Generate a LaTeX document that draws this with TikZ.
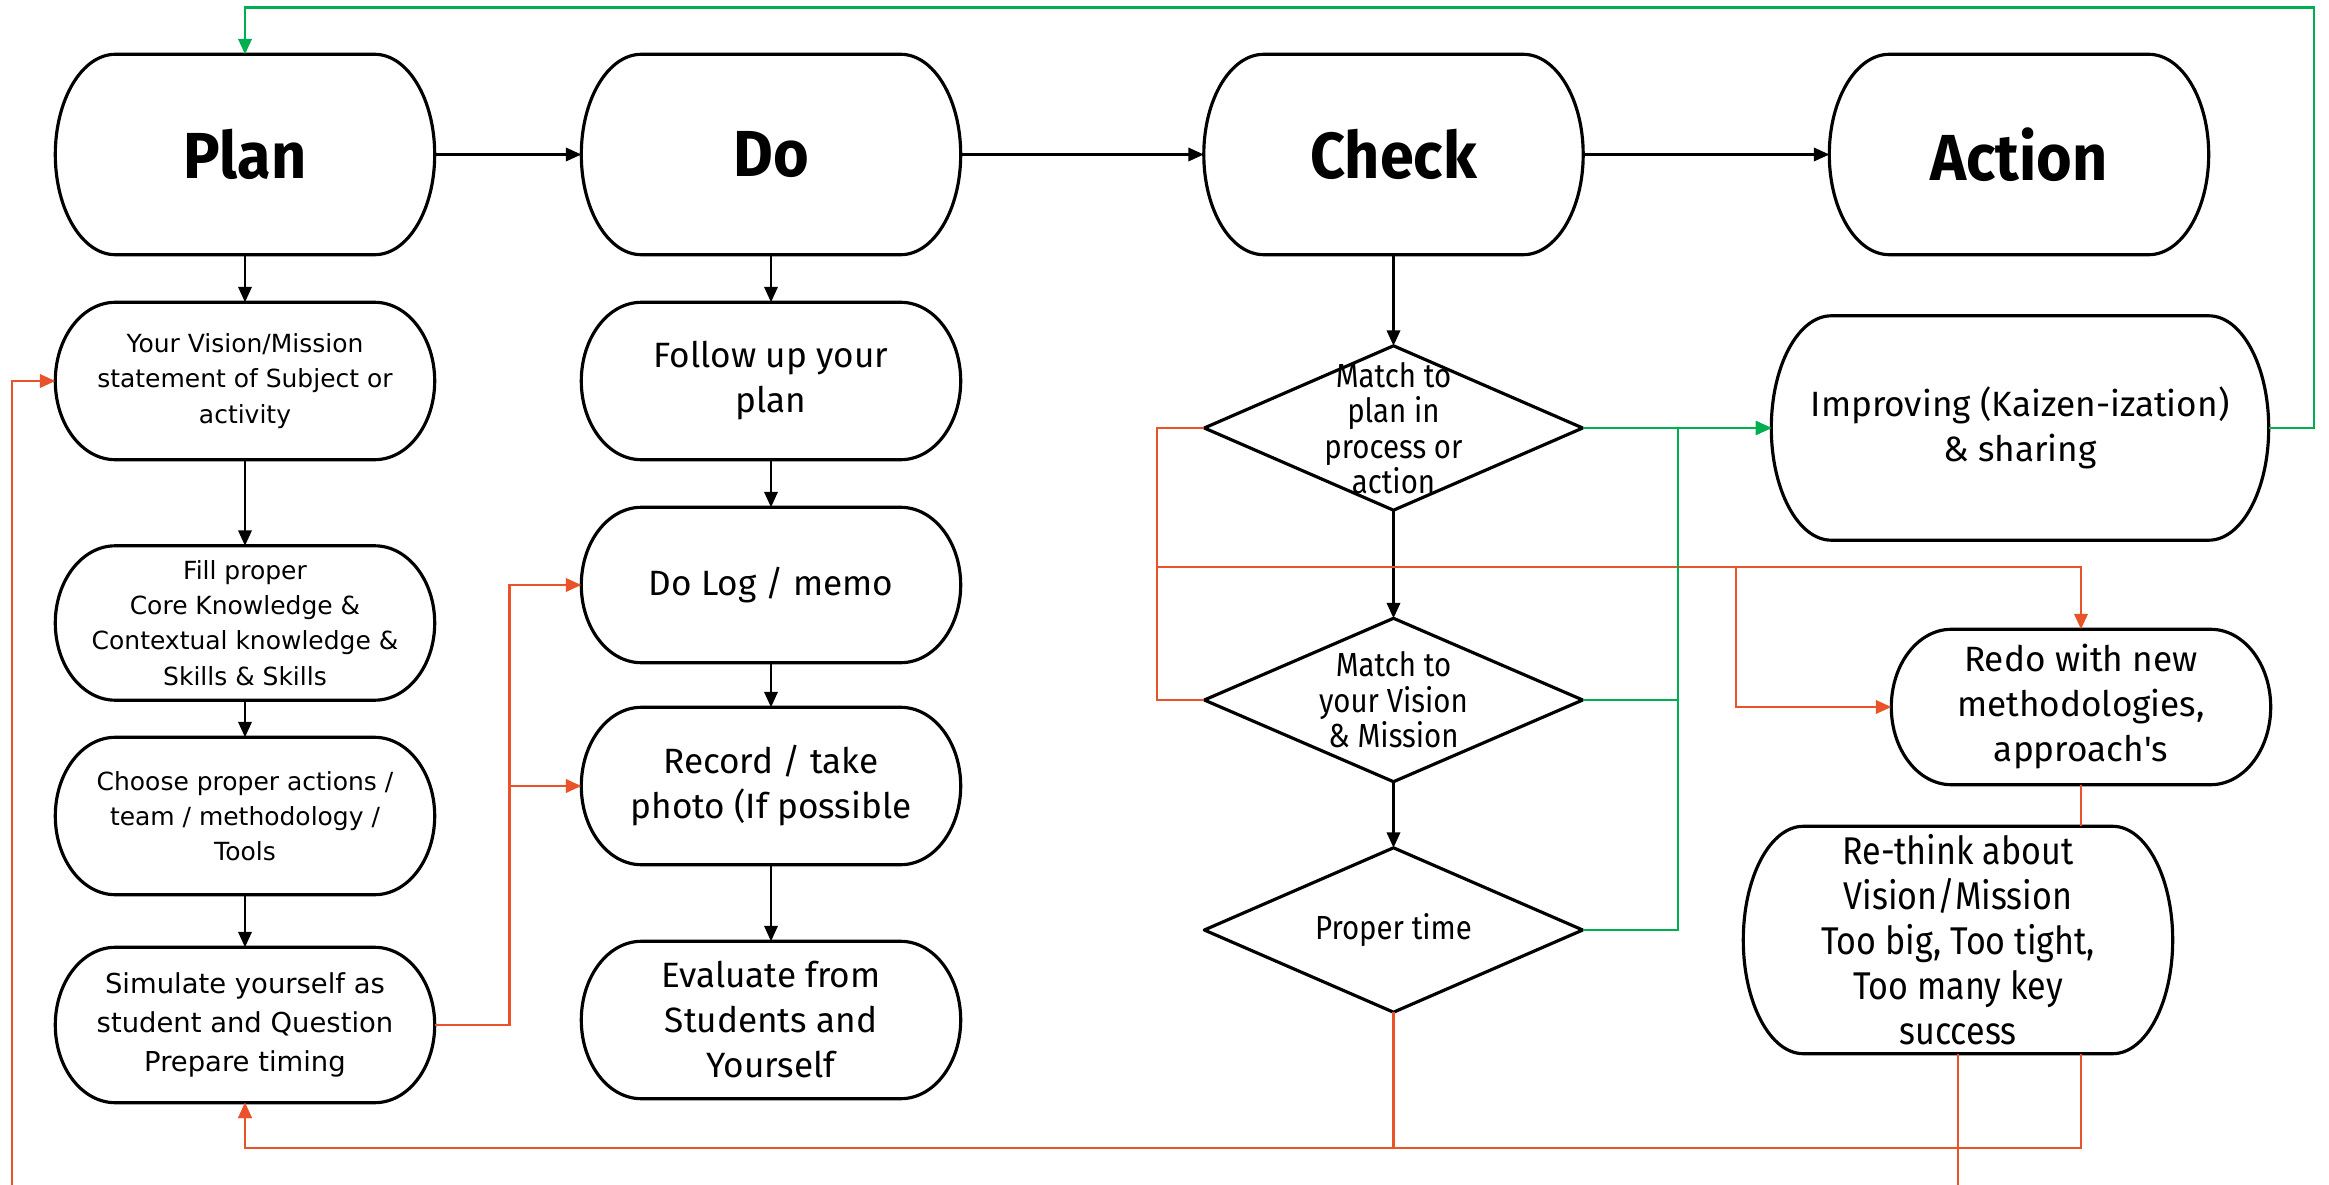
\documentclass[tikz,border=0pt]{standalone}
\usepackage{fontspec}
\setmainfont{Fira Sans}
\newfontfamily\widefont{DejaVu Sans}
\newfontfamily\narrowfont[FakeStretch=0.88]{Fira Sans}
\newfontfamily\titlefont[FakeStretch=0.94]{Fira Sans}
\usetikzlibrary{arrows.meta,calc}

\definecolor{loopred}{HTML}{EA5329}
\definecolor{loopgreen}{HTML}{00B050}

\tikzset{
  term/.style={rectangle, inner sep=0pt, align=center},
  boxline/.style={line width=0.9pt, line join=round},
  tip/.style={-{Triangle[length=4.4pt,width=3.8pt]}},
  flow/.style={line width=0.7pt, tip},
  redlink/.style={line width=0.75pt, draw=loopred},
  redflow/.style={redlink, tip, color=loopred},
  greenlink/.style={line width=0.75pt, draw=loopgreen},
  greenflow/.style={greenlink, tip, color=loopgreen},
  title/.style={font=\titlefont\fontsize{18.5}{22}\selectfont\bfseries},
  body/.style={font=\fontsize{10}{12.8}\selectfont},
  wide/.style={font=\widefont\fontsize{7.1}{10}\selectfont},
  widebig/.style={font=\widefont\fontsize{7.8}{11}\selectfont},
  narrow/.style={font=\narrowfont\fontsize{9.5}{10.1}\selectfont},
  narrowbig/.style={font=\narrowfont\fontsize{11}{12.8}\selectfont},
}

% terminal box: rectangle node with elliptical ends drawn round it
% #1 text style, #2 name, #3 centre, #4 width, #5 height, #6 text
\newcommand\termnode[6][body]{%
  \node[term, #1, minimum width=#4*0.01cm, minimum height=#5*0.01cm] (#2) at (#3) {#6};
  \draw[boxline] let \p1=(#2.north west), \p2=(#2.south east),
      \n1={(\y1-\y2)/2}, \n2={60*0.01cm} in
    (\x1+\n2,\y1) -- (\x2-\n2,\y1)
    arc[start angle=90, end angle=-90, x radius=\n2, y radius=\n1]
    -- (\x1+\n2,\y2)
    arc[start angle=270, end angle=90, x radius=\n2, y radius=\n1] -- cycle;}

% decision diamond: #1 name, #2 centre, #3 width, #4 height, #5 text
\newcommand\decision[5]{%
  \node[term, narrow, minimum width=#3*0.01cm, minimum height=#4*0.01cm] (#1) at (#2) {#5};
  \draw[boxline] (#1.north) -- (#1.east) -- (#1.south) -- (#1.west) -- cycle;}

\begin{document}
\begin{tikzpicture}[x=0.01cm, y=-0.01cm]
\useasboundingbox (0,0) rectangle (2329,1185);
\fill[white] (0,0) rectangle (2329,1185);
\clip (0,0) rectangle (2329,1185);

% PDCA headings
\termnode[title]{plan}{245,154.5}{378}{199}{Plan}
\termnode[title]{do}{771,154.5}{378}{199}{Do}
\termnode[title]{check}{1393.5,154.5}{378}{199}{Check}
\termnode[title]{act}{2019,154.5}{378}{199}{Action}

% Plan column
\termnode[wide]{vision}{245,381}{378}{156}{Your Vision/Mission\\statement of Subject or\\activity}
\termnode[wide]{fill}{245,623}{378}{153}{Fill proper\\Core Knowledge \&\\Contextual knowledge \&\\Skills \& Skills}
\termnode[wide]{choose}{245,816}{378}{156}{Choose proper actions /\\team / methodology /\\Tools}
\termnode[widebig]{simulate}{245,1025}{378}{154}{Simulate yourself as\\student and Question\\Prepare timing}

% Do column
\termnode{follow}{771,381}{378}{156}{Follow up your\\plan}
\termnode{dolog}{771,585}{378}{154}{Do Log / memo}
\termnode{record}{771,786}{378}{156}{Record / take\\photo (If possible}
\termnode{evaluate}{771,1020}{378}{156}{Evaluate from\\Students and\\Yourself}

% Check column
\decision{matchplan}{1393.5,428}{377}{163}{Match to\\plan in\\process or\\action}
\decision{matchvision}{1393.5,700}{377}{162}{Match to\\your Vision\\\& Mission}
\decision{propertime}{1393.5,930}{377}{163}{Proper time}

% Action column
\termnode{improve}{2020,428}{496}{223}{Improving (Kaizen-ization)\\\& sharing}
\termnode{redo}{2081,707}{378}{154}{Redo with new\\methodologies,\\approach\textquotesingle s}
\termnode[narrowbig]{rethink}{1958,940}{428}{226}{Re-think about\\Vision/Mission\\Too big, Too tight,\\Too many key\\success}

% routing points
\coordinate (redS) at (509.5,0);
\coordinate (redL) at (1157,567);
\coordinate (redB) at (1736,567);
\coordinate (greenX) at (1678,0);
\coordinate (greenTop) at (2314,7.5);
\coordinate (trunk) at (0,1148);
\coordinate (outLoop) at (12,1260);

% main flow
\draw[flow] (plan) -- (do);
\draw[flow] (do) -- (check);
\draw[flow] (check) -- (act);
\draw[flow] (plan) -- (vision);
\draw[flow] (vision) -- (fill);
\draw[flow] (fill) -- (choose);
\draw[flow] (choose) -- (simulate);
\draw[flow] (do) -- (follow);
\draw[flow] (follow) -- (dolog);
\draw[flow] (dolog) -- (record);
\draw[flow] (record) -- (evaluate);
\draw[flow] (check) -- (matchplan);
\draw[flow] (matchplan) -- (matchvision);
\draw[flow] (matchvision) -- (propertime);

% simulation feeds the log and the record
\draw[redflow] (simulate.east) -- (simulate.east -| redS) |- (dolog.west);
\draw[redflow] (simulate.east) -- (simulate.east -| redS) |- (record.west);

% failed checks lead to a redo
\draw[redflow] (matchplan.west) -| (redL) -| (redo.north);
\draw[redflow] (matchvision.west) -| (redL) -- (redB) |- (redo.west);

% passed checks lead to improvement
\draw[greenflow] (matchplan.east) -- (improve.west);
\draw[greenflow] (matchvision.east) -- (matchvision.east -| greenX) |- (improve.west);
\draw[greenflow] (propertime.east) -- (propertime.east -| greenX) |- (improve.west);
\draw[greenflow] (improve.east) -| (greenTop) -| (plan.north);

% re-think loops back to planning
\draw[redlink] (redo.south) -- (redo.south |- rethink.north);
\draw[redflow] (propertime.south) -- (propertime.south |- trunk) -| (simulate.south);
\draw[redflow] (redo.south |- rethink.south) -- (redo.south |- trunk) -| (simulate.south);
\draw[redflow] (rethink.south) |- (outLoop) |- (vision.west);
\end{tikzpicture}
\end{document}
